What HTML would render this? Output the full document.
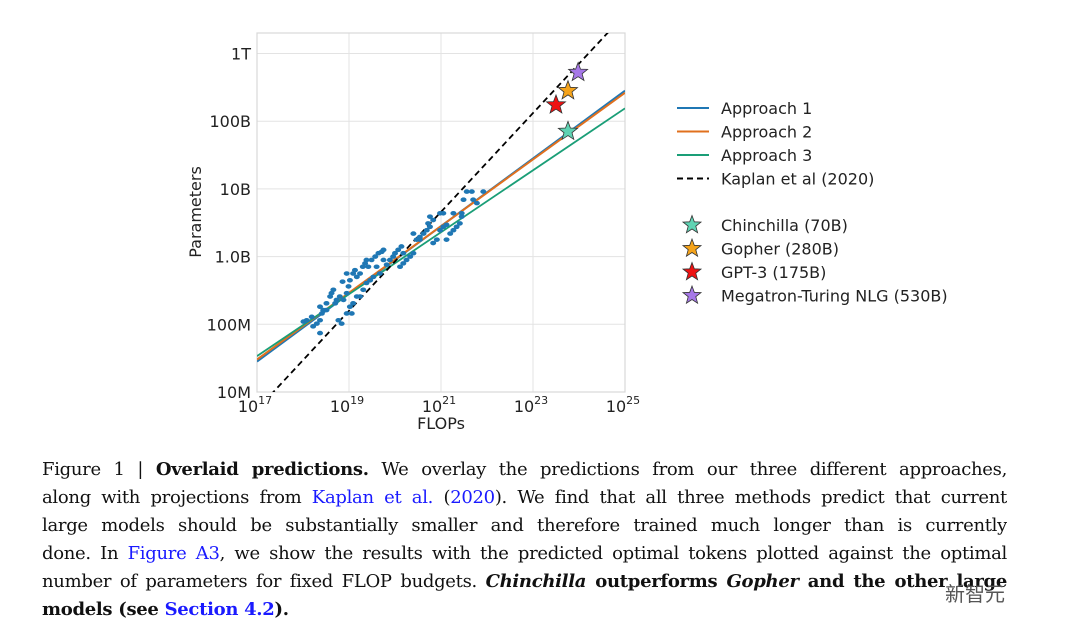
<!DOCTYPE html>
<html><head><meta charset="utf-8"><style>
body{margin:0;background:#fff;width:1080px;height:634px;overflow:hidden;position:relative}
svg{position:absolute;left:0;top:0}
.cap{position:absolute;left:42px;width:965px;font-family:"DejaVu Serif","Liberation Serif",serif;font-size:18px;letter-spacing:-0.3px;color:#111;line-height:28px;white-space:nowrap}
.j{text-align:justify;text-align-last:justify;white-space:normal;height:28px;overflow:hidden}
.blue{color:#1a1aff}
</style></head><body>
<svg width="1080" height="634" font-family="DejaVu Sans, Liberation Sans, sans-serif">
<g id="grid"></g><g id="lines"></g><g id="pts"></g><g id="stars"></g><g id="ticks"></g>
<text x="441" y="429" font-size="16" text-anchor="middle" fill="#222">FLOPs</text>
<text transform="translate(201,212) rotate(-90)" font-size="16" text-anchor="middle" fill="#222">Parameters</text>
<g id="legend" font-size="16" fill="#222"></g>
</svg>
<div class="cap j" style="top:456px">Figure 1 | <b>Overlaid predictions.</b> We overlay the predictions from our three different approaches,</div>
<div class="cap j" style="top:484px">along with projections from <span class="blue">Kaplan et al.</span> (<span class="blue">2020</span>). We find that all three methods predict that current</div>
<div class="cap j" style="top:512px">large models should be substantially smaller and therefore trained much longer than is currently</div>
<div class="cap j" style="top:540px">done. In <span class="blue">Figure A3</span>, we show the results with the predicted optimal tokens plotted against the optimal</div>
<div class="cap j" style="top:568px">number of parameters for fixed FLOP budgets. <b><i>Chinchilla</i> outperforms <i>Gopher</i> and the other large</b></div>
<div class="cap" style="top:596px"><b>models (see <span class="blue">Section 4.2</span>).</b></div>
<div style="position:absolute;left:945px;top:578px;font:20px 'Noto Sans CJK SC',sans-serif;color:#555">新智元</div>
<script>
const logFlops=[18.01,18.08,18.19,18.22,18.30,18.37,18.41,18.37,18.44,18.51,18.59,18.62,18.70,18.73,18.80,18.88,18.95,18.86,18.99,19.02,19.09,19.13,19.17,19.24,19.30,19.35,19.38,19.42,19.49,19.57,19.64,19.71,19.75,19.09,19.02,18.95,18.77,18.37,19.24,19.31,19.38,19.46,19.53,19.67,19.82,19.89,19.96,20.00,20.07,20.14,20.18,20.11,20.18,20.25,20.33,20.40,20.40,20.47,20.54,20.62,20.69,20.76,20.72,20.76,20.83,20.83,20.91,20.98,21.05,21.12,20.98,21.12,21.20,21.27,21.34,21.41,21.45,21.49,21.45,21.56,21.67,21.70,21.92,21.78,20.54,19.75,19.60,18.95,18.66,18.51,18.84,19.06,19.17,21.27,21.05];
const logParams=[8.04,8.06,8.11,7.97,8.01,8.06,8.16,8.26,8.21,8.31,8.41,8.46,8.31,8.36,8.41,8.36,8.46,8.63,8.56,8.65,8.75,8.80,8.70,8.75,8.85,8.90,8.95,8.85,8.95,9.00,9.05,9.07,9.10,8.31,8.26,8.16,8.06,7.87,8.41,8.51,8.61,8.65,8.70,8.75,8.88,8.95,9.00,9.05,9.10,9.15,9.05,8.85,8.90,8.95,9.00,9.05,9.34,9.25,9.29,9.34,9.39,9.44,9.49,9.59,9.54,9.20,9.25,9.39,9.44,9.47,9.64,9.25,9.34,9.39,9.44,9.49,9.59,9.84,9.64,9.96,9.96,9.84,9.96,9.79,9.25,8.95,8.85,8.75,8.51,8.21,8.01,8.16,8.41,9.64,9.64];
const lineX=[17,25];
const approach1=[7.45,11.45];
const approach2=[7.48,11.42];
const approach3=[7.53,11.19];
const kaplan=[6.74,12.58];
const starNames=['Chinchilla (70B)','Gopher (280B)','GPT-3 (175B)','Megatron-Turing NLG (530B)'];
const starFlops=[23.76,23.76,23.5,23.98];
const starParams=[10.85,11.45,11.24,11.72];
const starColors=['#5fd3b3','#f5a31a','#ee1111','#a678e8'];
const xTicks=[17,19,21,23,25];
const yTicks=[7,8,9,10,11,12];
const yTickLabels=['10M','100M','1.0B','10B','100B','1T'];

const NS='http://www.w3.org/2000/svg';
const L=257,R=625,T=33,B=392;
const X=v=>L+(v-17)*(R-L)/8;
const Y=v=>B-(v-7)*67.7;
function mk(tag,at,par){const e=document.createElementNS(NS,tag);for(const k in at)e.setAttribute(k,at[k]);document.getElementById(par).appendChild(e);return e;}
xTicks.forEach(t=>{const e=mk('line',{x1:X(t),x2:X(t),y1:T,y2:B,stroke:'#e3e3e3','stroke-width':1},'grid');

});
yTicks.forEach(t=>{const e=mk('line',{x1:L,x2:R,y1:Y(t),y2:Y(t),stroke:'#e3e3e3','stroke-width':1},'grid');

});
const fr=mk('rect',{x:L,y:T,width:R-L,height:B-T,fill:'none',stroke:'#d8d8d8','stroke-width':1.2},'grid');


xTicks.forEach(t=>{const e=mk('text',{x:X(t)-2,y:412,'font-size':16,'text-anchor':'middle',fill:'#222'},'ticks');
e.innerHTML='10<tspan dy="-8" font-size="11">'+t+'</tspan>';

});
yTicks.forEach((t,i)=>{const e=mk('text',{x:251,y:Y(t)+6,'font-size':16,'text-anchor':'end',fill:'#222'},'ticks');
e.textContent=yTickLabels[i];

});
const defs=document.createElementNS(NS,'defs');const cp=document.createElementNS(NS,'clipPath');cp.setAttribute('id','c');
const cr=document.createElementNS(NS,'rect');cr.setAttribute('x',L);cr.setAttribute('y',T);cr.setAttribute('width',R-L);cr.setAttribute('height',B-T);
cp.appendChild(cr);defs.appendChild(cp);document.querySelector('svg').prepend(defs);
document.getElementById('lines').setAttribute('clip-path','url(#c)');
logFlops.forEach((f,i)=>{const e=mk('ellipse',{cx:X(f),cy:Y(logParams[i]),rx:3,ry:2.3,fill:'#1f77b4'},'pts');

});
function ln(ys,col,dash,name,w){const e=mk('line',{x1:X(lineX[0]),y1:Y(ys[0]),x2:X(lineX[1]),y2:Y(ys[1]),stroke:col,'stroke-width':w||2},'lines');
if(dash)e.setAttribute('stroke-dasharray',dash);

}
ln(approach1,'#1f77b4',null,'approach-1-line');
ln(approach2,'#e0701e',null,'approach-2-line');
ln(approach3,'#1a9e77',null,'approach-3-line',1.8);
ln(kaplan,'#000','6,4','kaplan-line',1.8);
function starPath(cx,cy,r){let p='';for(let k=0;k<10;k++){const a=-Math.PI/2+k*Math.PI/5;const rr=k%2?r*0.42:r;p+=(k?'L':'M')+(cx+rr*Math.cos(a)).toFixed(1)+','+(cy+rr*Math.sin(a)).toFixed(1);}return p+'Z';}
starFlops.forEach((f,i)=>{const e=mk('path',{d:starPath(X(f),Y(starParams[i]),10),fill:starColors[i],stroke:'#333','stroke-width':0.8},'stars');

});
const lg=[['Approach 1','#1f77b4',null],['Approach 2','#e0701e',null],['Approach 3','#1a9e77',null],['Kaplan et al (2020)','#000','6,4']];
lg.forEach((d,i)=>{const y=108+i*23.5;const l=mk('line',{x1:677,x2:709,y1:y,y2:y,stroke:d[1],'stroke-width':2},'legend');
if(d[2])l.setAttribute('stroke-dasharray',d[2]);


const t=mk('text',{x:721,y:y+6},'legend');t.textContent=d[0];

});
starNames.forEach((n,i)=>{const y=225+i*23.5;const s=mk('path',{d:starPath(692,y,9.5),fill:starColors[i],stroke:'#333','stroke-width':0.8},'legend');


const t=mk('text',{x:721,y:y+6},'legend');t.textContent=n;

});
</script>
</body></html>
